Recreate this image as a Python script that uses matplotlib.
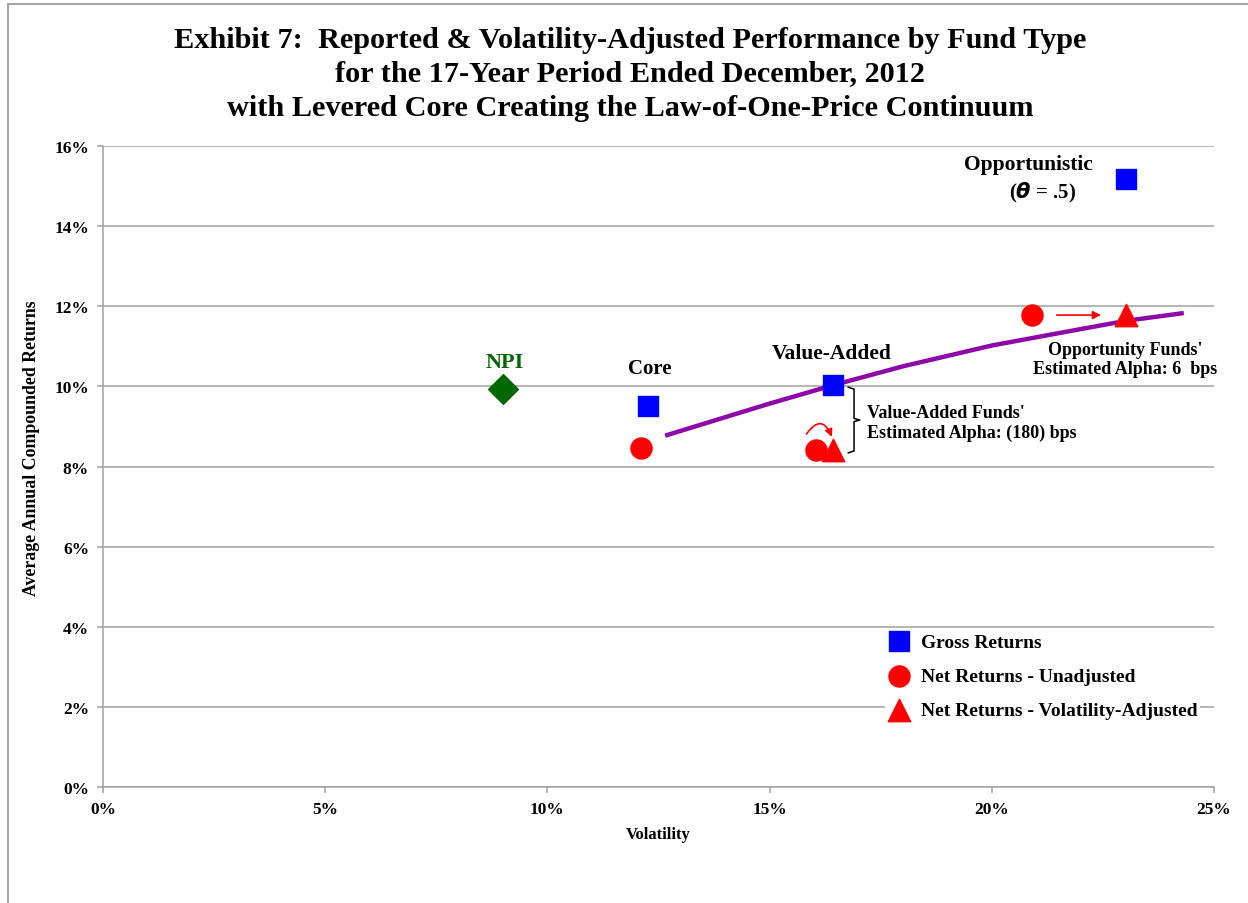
import numpy as np
import matplotlib
matplotlib.use("Agg")
import matplotlib.pyplot as plt
from matplotlib.patches import FancyArrowPatch, Rectangle
from matplotlib.ticker import FuncFormatter

plt.rcParams['font.family'] = ['Liberation Serif', 'DejaVu Serif']

# fund data (volatility %, return %)
fund_types = ['Core', 'Value-Added', 'Opportunistic']
gross_vol = [12.26, 16.43, 23.02]
gross_ret = [9.51, 10.03, 15.18]
net_vol = [12.10, 16.04, 20.90]
net_ret = [8.46, 8.41, 11.78]
adj_vol = [16.43, 23.02]
adj_ret = [8.41, 11.78]
npi_vol = [9.0]
npi_ret = [9.93]

# levered core continuum
curve_vol = [12.65, 14.0, 15.0, 16.43, 18.0, 20.0, 22.0, 23.04, 24.32]
curve_ret = [8.77, 9.23, 9.57, 10.03, 10.50, 11.02, 11.43, 11.64, 11.83]

fig = plt.figure(figsize=(12.48, 9.04), dpi=100)
ax = fig.add_axes([103/1248, 1-788/904, (1214-103)/1248, (788-147)/904])

# frame of the exhibit
fig.patches.append(Rectangle((8/1248, -0.1), 2, 1.1 - 5/904, transform=fig.transFigure,
                             fill=False, edgecolor='#A6A6A6', lw=1.5))

ax.set_xlim(0, 25)
ax.set_ylim(0, 16)
ax.set_yticks(np.arange(0, 17, 2))
ax.set_xticks(np.arange(0, 26, 5))
pct = FuncFormatter(lambda v, p: f"{v:.0f}%")
ax.xaxis.set_major_formatter(pct)
ax.yaxis.set_major_formatter(pct)
ax.grid(axis='y', color='#A0A0A0', lw=1.1)
ax.set_axisbelow(True)
for s in ['top', 'right']:
    ax.spines[s].set_visible(False)
for s in ['left', 'bottom']:
    ax.spines[s].set_color('#A0A0A0')
    ax.spines[s].set_linewidth(1.1)
ax.tick_params(colors='#A0A0A0', length=4, width=1.1, labelcolor='black', labelsize=12.5)
for lbl in ax.get_xticklabels() + ax.get_yticklabels():
    lbl.set_fontweight('bold')
ax.tick_params(axis='x', pad=6)
ax.tick_params(axis='y', pad=6)

ax.set_xlabel('Volatility', fontsize=12, fontweight='bold')
ax.xaxis.set_label_coords(0.5, (788 - 835) / 641, transform=ax.transAxes)
ax.xaxis.label.set_va('center')
ax.set_ylabel('Average Annual Compounded Returns', fontsize=12.8, fontweight='bold')
ax.yaxis.set_label_coords((32 - 103) / 1111, (788 - 448.5) / 641)
ax.yaxis.label.set_va('center')

ax.plot(curve_vol, curve_ret, color='#8E07A8', lw=3.2, solid_capstyle='butt', zorder=2)

ax.scatter(gross_vol, gross_ret, marker='s', s=200, color='#0000FF', zorder=3, label='Gross Returns')
ax.scatter(net_vol, net_ret, marker='o', s=230, color='#FF0000', zorder=3, label='Net Returns - Unadjusted')
ax.scatter(adj_vol, adj_ret, marker='^', s=260, color='#FF0000', zorder=3, label='Net Returns - Volatility-Adjusted')
ax.scatter(npi_vol, npi_ret, marker='D', s=230, color='#006600', zorder=3)

# labels
ax.text(npi_vol[0] + 0.05, npi_ret[0] + 0.68, 'NPI', color='#006600', fontsize=16,
        fontweight='bold', ha='center', va='center')
ax.text(gross_vol[0] + 0.04, gross_ret[0] + 0.94, 'Core', fontsize=15, fontweight='bold',
        ha='center', va='center')
ax.text(gross_vol[1] - 0.03, gross_ret[1] + 0.80, 'Value-Added', fontsize=15.5, fontweight='bold',
        ha='center', va='center')
ax.text(gross_vol[2] - 2.2, gross_ret[2] + 0.38, 'Opportunistic', fontsize=15.5, fontweight='bold',
        ha='center', va='center')
ax.text(gross_vol[2] - 1.88, gross_ret[2] - 0.32, r'($\boldsymbol{\theta}$ = .5)', fontsize=15,
        fontweight='bold', ha='center', va='center')

ax.text(17.2, 9.1, "Value-Added Funds'\nEstimated Alpha: (180) bps", fontsize=13,
        fontweight='bold', ha='left', va='center', linespacing=1.2)
ax.text(23.0, 10.68, "Opportunity Funds'\nEstimated Alpha: 6  bps", fontsize=13,
        fontweight='bold', ha='center', va='center', linespacing=1.2)

# bracket between value-added gross and adjusted net
bx = gross_vol[1] + 0.47
ytop, ybot = gross_ret[1] - 0.05, adj_ret[0] - 0.07
ymid = (ytop + ybot) / 2
ax.plot([bx - 0.13, bx, bx, bx + 0.13, bx, bx, bx - 0.13],
        [ytop, ytop - 0.05, ymid + 0.04, ymid, ymid - 0.04, ybot + 0.05, ybot],
        color='black', lw=1.1, zorder=3)

# arrows
ax.add_patch(FancyArrowPatch((net_vol[2] + 0.5, net_ret[2]), (adj_vol[1] - 0.5, adj_ret[1]),
                             arrowstyle='-|>', mutation_scale=12, color='#FF0000', lw=1.2))
ax.add_patch(FancyArrowPatch((net_vol[1] - 0.21, net_ret[1] + 0.40), (adj_vol[0] - 0.03, adj_ret[0] + 0.33),
                             connectionstyle='arc3,rad=-0.9', arrowstyle='-|>', mutation_scale=11,
                             color='#FF0000', lw=1.2, shrinkA=0, shrinkB=0))

leg = ax.legend(loc='upper left', bbox_to_anchor=(0.695, 0.26), frameon=True,
                prop={'weight': 'bold', 'size': 14}, handletextpad=0.5, labelspacing=0.85,
                borderpad=0.15, handlelength=1.2, scatterpoints=1)
leg.get_frame().set_edgecolor('none')
leg.get_frame().set_facecolor('white')
leg.get_frame().set_alpha(1)

fig.text(630/1248, 1-40/904, 'Exhibit 7:  Reported & Volatility-Adjusted Performance by Fund Type',
         fontsize=21.8, fontweight='bold', ha='center', va='center')
fig.text(630/1248, 1-74/904, 'for the 17-Year Period Ended December, 2012',
         fontsize=21.8, fontweight='bold', ha='center', va='center')
fig.text(630/1248, 1-108/904, 'with Levered Core Creating the Law-of-One-Price Continuum',
         fontsize=21.8, fontweight='bold', ha='center', va='center')

fig.savefig('out.png', dpi=100)
